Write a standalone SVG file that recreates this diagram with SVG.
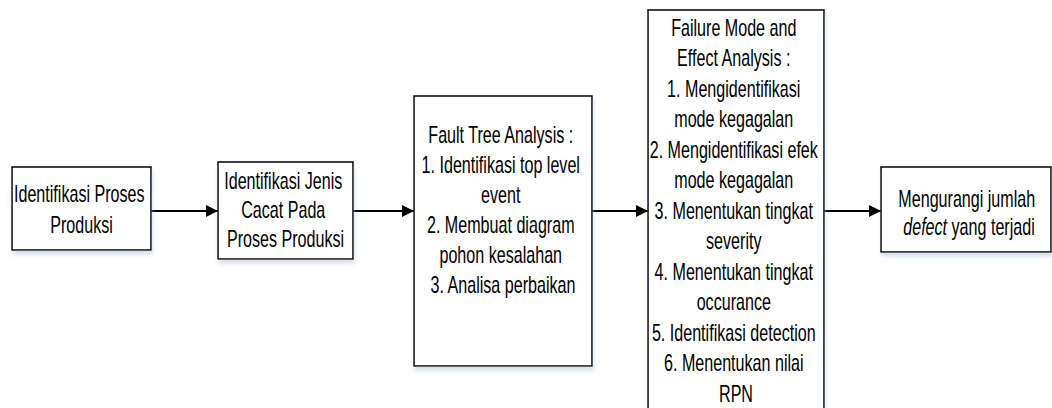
<svg xmlns="http://www.w3.org/2000/svg" width="1052" height="408" viewBox="0 0 1052 408">
  <style>
    .box { fill: #ffffff; stroke: #000000; stroke-width: 1.5; filter: url(#shade); }
    .lbl { font-family: "Liberation Sans", Arial, sans-serif; font-size: 23px; fill: #000000; text-anchor: middle; }
    .wire { stroke: #000000; stroke-width: 2; fill: none; marker-end: url(#head); }
  </style>
  <defs>
    <filter id="shade" x="-10%" y="-10%" width="120%" height="130%">
      <feDropShadow dx="1" dy="4" stdDeviation="2" flood-color="#aabbd6" flood-opacity="0.45"/>
    </filter>
    <marker id="head" markerWidth="6" markerHeight="6" refX="6" refY="3" orient="auto" markerUnits="strokeWidth">
      <path d="M0,0 L6,3 L0,6 Z" fill="#000000"/>
    </marker>
  </defs>
  <rect width="1052" height="408" fill="#ffffff"/>

  <g id="connectors">
    <line class="wire" x1="151" y1="211" x2="218" y2="211"/>
    <line class="wire" x1="353" y1="211" x2="414" y2="211"/>
    <line class="wire" x1="592" y1="211" x2="648" y2="211"/>
    <line class="wire" x1="824" y1="211" x2="881" y2="211"/>
  </g>

  <g id="proses-produksi">
    <rect class="box" x="12" y="167" width="139" height="83"/>
    <text class="lbl" transform="matrix(0.7 0 0 1 81.5 0)">
      <tspan x="0" y="202">Identifikasi Proses</tspan>
      <tspan x="0" y="233">Produksi</tspan>
    </text>
  </g>

  <g id="jenis-cacat">
    <rect class="box" x="218" y="162" width="135" height="97"/>
    <text class="lbl" transform="matrix(0.7 0 0 1 285.5 0)">
      <tspan x="0" y="189">Identifikasi Jenis</tspan>
      <tspan x="0" y="218">Cacat Pada</tspan>
      <tspan x="0" y="247">Proses Produksi</tspan>
    </text>
  </g>

  <g id="fta">
    <rect class="box" x="414" y="96" width="178" height="270"/>
    <text class="lbl" transform="matrix(0.7 0 0 1 503 0)">
      <tspan x="0" y="143">Fault Tree Analysis :</tspan>
      <tspan x="0" y="173">1. Identifikasi top level</tspan>
      <tspan x="0" y="203">event</tspan>
      <tspan x="0" y="233">2. Membuat diagram</tspan>
      <tspan x="0" y="263">pohon kesalahan</tspan>
      <tspan x="0" y="293">3. Analisa perbaikan</tspan>
    </text>
  </g>

  <g id="fmea">
    <rect class="box" x="648" y="10" width="176" height="410"/>
    <text class="lbl" transform="matrix(0.7 0 0 1 736 0)">
      <tspan x="0" y="36">Failure Mode and</tspan>
      <tspan x="0" y="66.5">Effect Analysis :</tspan>
      <tspan x="0" y="97">1. Mengidentifikasi</tspan>
      <tspan x="0" y="127.5">mode kegagalan</tspan>
      <tspan x="0" y="158">2. Mengidentifikasi efek</tspan>
      <tspan x="0" y="188.5">mode kegagalan</tspan>
      <tspan x="0" y="219">3. Menentukan tingkat</tspan>
      <tspan x="0" y="249.5">severity</tspan>
      <tspan x="0" y="280">4. Menentukan tingkat</tspan>
      <tspan x="0" y="310.5">occurance</tspan>
      <tspan x="0" y="341">5. Identifikasi detection</tspan>
      <tspan x="0" y="371.5">6. Menentukan nilai</tspan>
      <tspan x="0" y="402">RPN</tspan>
    </text>
  </g>

  <g id="mengurangi-defect">
    <rect class="box" x="881" y="167" width="170" height="85"/>
    <text class="lbl" transform="matrix(0.7 0 0 1 969 0)">
      <tspan x="0" y="207">Mengurangi jumlah</tspan>
      <tspan x="0" y="235"><tspan font-style="italic">defect</tspan> yang terjadi</tspan>
    </text>
  </g>
</svg>
